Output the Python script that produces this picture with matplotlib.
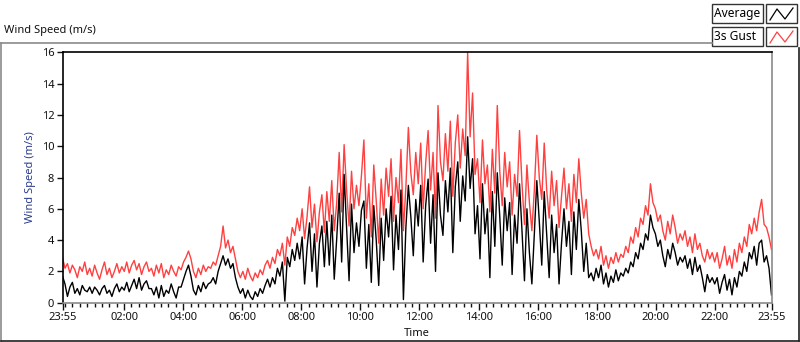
import numpy as np
import matplotlib
matplotlib.use("Agg")
import matplotlib.pyplot as plt
from matplotlib.lines import Line2D
from matplotlib.patches import Rectangle

# ---- data: 5-minute samples, starting 23:55 (hourly rows of 12) ----
gust = [
    2.9, 2.2, 2.5, 1.9, 2.4, 2.1, 1.6, 2.3, 2.0, 2.6, 1.8, 2.2,
    1.7, 2.4, 1.9, 1.5, 2.1, 2.6, 1.8, 2.2, 1.6, 2.0, 2.5, 1.9,
    2.3, 2.0, 2.6, 1.9, 2.4, 2.7, 2.1, 2.5, 1.8, 2.3, 2.6, 2.0,
    2.2, 1.7, 2.4, 1.9, 2.5, 1.6, 2.1, 1.8, 2.4, 2.0, 1.7, 2.3,
    2.1, 2.6, 2.9, 3.3, 2.8, 2.0, 1.6, 2.2, 1.8, 2.4, 2.0, 2.3,
    2.2, 2.6, 2.4, 3.0, 3.6, 4.9, 3.5, 4.0, 3.2, 3.6, 2.8, 2.0,
    1.6, 2.0, 1.5, 2.2, 1.7, 1.4, 1.9, 1.6, 2.1, 1.8, 2.4, 2.7,
    2.2, 2.9, 2.5, 3.4, 3.0, 3.8, 2.4, 4.2, 3.6, 4.8, 4.3, 5.4,
    4.6, 6.0, 4.1, 5.5, 7.4, 4.8, 6.3, 3.9, 5.8, 6.9, 4.5, 7.1,
    5.2, 7.8, 4.6, 6.4, 9.6, 5.8, 10.1, 7.2, 4.9, 8.4, 6.0, 7.5,
    6.2, 8.1, 10.4, 5.4, 7.6, 4.2, 8.8, 6.5, 3.8, 7.9, 5.6, 8.6,
    6.8, 9.2, 5.2, 8.0, 6.4, 9.8, 4.6, 7.4, 11.2, 8.3, 6.9, 9.6,
    7.6, 10.2, 6.0, 8.9, 11.0, 7.2, 9.6, 5.4, 12.6, 9.0, 7.8, 10.8,
    8.4, 11.6, 6.8, 10.2, 12.0, 8.6, 11.1, 9.4, 16.0, 10.6, 13.4, 8.2,
    9.2, 6.4, 10.4, 7.6, 8.8, 5.8, 9.8, 7.0, 12.6, 8.4, 6.2, 9.6,
    7.4, 9.0, 5.6, 8.2, 6.8, 11.0, 7.6, 5.0, 8.8, 6.4, 4.6, 7.2,
    10.7, 8.0, 6.6, 10.2, 7.2, 5.4, 8.4, 6.2, 7.8, 4.8, 6.8, 8.6,
    6.0, 7.6, 5.2, 8.2, 6.4, 9.2, 7.0, 5.4, 6.6, 4.4, 3.6, 3.0,
    3.4, 2.8, 3.6, 2.4, 3.0, 2.2, 2.9, 2.5, 3.2, 2.6, 3.1, 2.9,
    3.6, 3.2, 4.2, 3.8, 4.8, 4.2, 5.4, 5.0, 6.2, 5.6, 7.6, 6.4,
    6.0, 5.2, 5.6, 4.6, 4.0, 5.2, 4.4, 5.6, 4.8, 3.8, 4.4, 4.0,
    4.6, 3.6, 4.2, 3.2, 4.4, 3.4, 3.8, 3.0, 2.6, 3.4, 2.8, 3.2,
    2.6, 3.2, 2.2, 2.8, 3.6, 2.4, 3.0, 2.2, 3.4, 2.6, 3.8, 3.2,
    4.2, 3.6, 5.0, 4.4, 5.4, 4.6, 5.8, 6.6, 5.0, 4.8, 4.2, 3.4,
]
average = [
    1.7, 1.2, 0.4, 1.0, 1.3, 0.6, 0.9, 0.5, 1.1, 0.8, 0.7, 1.0,
    0.6, 1.0, 0.8, 0.5, 0.9, 1.1, 0.6, 0.8, 0.4, 0.9, 1.2, 0.7,
    1.0, 0.8, 1.3, 0.7, 1.1, 1.5, 0.9, 1.6, 0.8, 1.2, 1.4, 0.9,
    0.9, 0.5, 1.0, 0.3, 1.1, 0.4, 0.8, 0.6, 1.2, 0.7, 0.3, 1.0,
    1.0, 1.5, 2.0, 2.4, 1.7, 0.8, 0.5, 1.1, 0.7, 1.3, 0.9, 1.2,
    1.3, 1.6, 1.2, 2.0, 2.5, 3.0, 2.4, 2.8, 2.2, 2.5, 1.6, 1.0,
    0.6, 0.9, 0.3, 0.8, 0.4, 0.2, 0.7, 0.4, 0.9, 0.6, 1.1, 1.5,
    1.0, 1.6, 1.2, 2.2, 1.7, 2.6, 0.1, 2.9, 2.3, 3.4, 2.7, 3.8,
    2.8, 4.2, 1.2, 3.5, 5.1, 2.0, 4.4, 1.0, 3.8, 4.9, 2.3, 5.2,
    2.4, 5.6, 1.5, 4.1, 7.0, 2.6, 8.2, 4.8, 1.4, 6.3, 3.2, 5.1,
    3.6, 5.9, 6.5, 2.2, 5.0, 1.3, 6.2, 4.0, 1.1, 5.4, 2.7, 6.0,
    4.2, 6.8, 2.1, 5.6, 3.4, 7.2, 0.2, 4.8, 7.5, 5.5, 3.0, 6.6,
    4.9, 7.5, 2.6, 6.2, 7.9, 3.8, 6.9, 2.0, 8.3, 5.6, 4.3, 7.8,
    5.8, 8.6, 3.2, 7.4, 9.0, 5.2, 8.1, 6.5, 10.6, 7.3, 9.2, 4.4,
    6.2, 2.8, 7.6, 4.4, 6.0, 1.6, 7.1, 3.6, 8.3, 5.5, 2.4, 6.7,
    4.6, 6.4, 1.8, 5.6, 3.8, 7.6, 4.6, 1.4, 6.0, 3.2, 1.2, 4.4,
    7.8, 5.2, 2.4, 7.1, 4.4, 1.6, 5.6, 3.2, 5.0, 1.2, 3.8, 6.0,
    3.6, 5.2, 1.8, 5.8, 3.4, 6.6, 4.6, 2.0, 3.8, 1.6, 1.9, 1.4,
    2.2, 1.6, 2.4, 1.2, 1.9, 1.0, 1.7, 1.3, 2.1, 1.4, 1.9, 1.7,
    2.2, 1.9, 2.6, 2.3, 3.2, 2.8, 3.8, 3.4, 4.4, 4.0, 5.6, 4.8,
    4.4, 3.6, 4.0, 3.0, 2.3, 3.4, 2.8, 3.8, 3.2, 2.4, 2.9, 2.6,
    3.0, 2.2, 2.8, 1.8, 2.9, 2.0, 2.4, 1.6, 0.7, 1.8, 1.3, 1.6,
    1.2, 1.6, 0.6, 1.3, 1.8, 0.8, 1.5, 0.5, 1.6, 1.0, 2.0, 1.7,
    2.6, 2.0, 3.2, 2.8, 3.6, 2.4, 3.8, 4.0, 2.6, 3.0, 2.2, 0.5,
]
tick_labels = ["23:55", "02:00", "04:00", "06:00", "08:00", "10:00", "12:00",
               "14:00", "16:00", "18:00", "20:00", "22:00", "23:55"]
series_names = ["Average", "3s Gust"]
colors = ["black", "#ff4040"]

# minutes since 23:55
t = np.linspace(0, 1440, len(gust))

W, H = 800, 342
fig = plt.figure(figsize=(W / 100, H / 100), dpi=100)
fig.patch.set_facecolor("white")

def fx(px):
    return px / W

def fy(py):
    return 1 - py / H

font = ["Noto Sans", "DejaVu Sans"]

# outer graph frame
fig.add_artist(Line2D([fx(1), fx(712)], [fy(42.5), fy(42.5)], color="#8a8a8a", lw=1.2))
fig.add_artist(Line2D([fx(1), fx(1)], [fy(42.5), fy(341)], color="#8a8a8a", lw=1.2))
fig.add_artist(Line2D([fx(1), fx(799)], [fy(340.5), fy(340.5)], color="#202020", lw=1.2))
fig.add_artist(Line2D([fx(798.5), fx(798.5)], [fy(48), fy(341)], color="#202020", lw=1.2))

fig.text(fx(4), fy(31), "Wind Speed (m/s)", fontsize=8, family=font, va="center", ha="left", color="#111111")

# plot axes
left, right, top, bottom = 62.5, 771.5, 52.3, 302.7
ax = fig.add_axes([fx(left), fy(bottom), fx(right - left), (bottom - top) / H])
ax.plot(t, gust, color=colors[1], lw=1.0)
ax.plot(t, average, color=colors[0], lw=1.0)
ax.set_xlim(0, 1440)
ax.set_ylim(0, 16)

major = [0] + [125 + 120 * k for k in range(11)] + [1440]
minor = [m for m in range(5, 1440, 15) if m not in major]
ax.set_xticks(major)
ax.set_xticklabels(tick_labels)
ax.set_xticks(minor, minor=True)
ax.set_yticks(range(0, 17, 2))
ax.tick_params(axis="x", which="major", length=5, width=1, direction="out", labelsize=8, pad=2, colors="#111111")
ax.tick_params(axis="x", which="minor", length=3, width=1, direction="out", colors="#111111")
ax.tick_params(axis="y", which="major", length=4, width=1, direction="out", labelsize=8, pad=2, colors="#111111")
for lab in ax.get_xticklabels() + ax.get_yticklabels():
    lab.set_family(font)

ax.spines["top"].set_color("black")
ax.spines["left"].set_color("black")
ax.spines["bottom"].set_color("#8a8a8a")
ax.spines["right"].set_color("#8a8a8a")
for s in ax.spines.values():
    s.set_linewidth(1.2)

ax.set_ylabel("Wind Speed (m/s)", fontsize=8, family=font, color="#2b3d8f", labelpad=4)
ax.set_xlabel("Time", fontsize=8, family=font, color="#111111", labelpad=3)

# legend (LabVIEW-style plot legend)
for i, (name, col) in enumerate(zip(series_names, colors)):
    y0 = 4 + i * 23
    fig.add_artist(Rectangle((fx(712), fy(y0 + 19)), fx(51), 19 / H, transform=fig.transFigure,
                             facecolor="white", edgecolor="#333333", lw=1))
    fig.text(fx(714), fy(y0 + 9.5), name, fontsize=8.6, family=font, va="center", ha="left", color="black")
    fig.add_artist(Rectangle((fx(766), fy(y0 + 19)), fx(31), 19 / H, transform=fig.transFigure,
                             facecolor="white", edgecolor="#333333", lw=1))
    zx = [770, 777, 785, 793]
    zy = [y0 + 16, y0 + 5, y0 + 15, y0 + 4]
    fig.add_artist(Line2D([fx(v) for v in zx], [fy(v) for v in zy], color=col, lw=0.9))

fig.savefig("out.png", dpi=100, facecolor="white")
